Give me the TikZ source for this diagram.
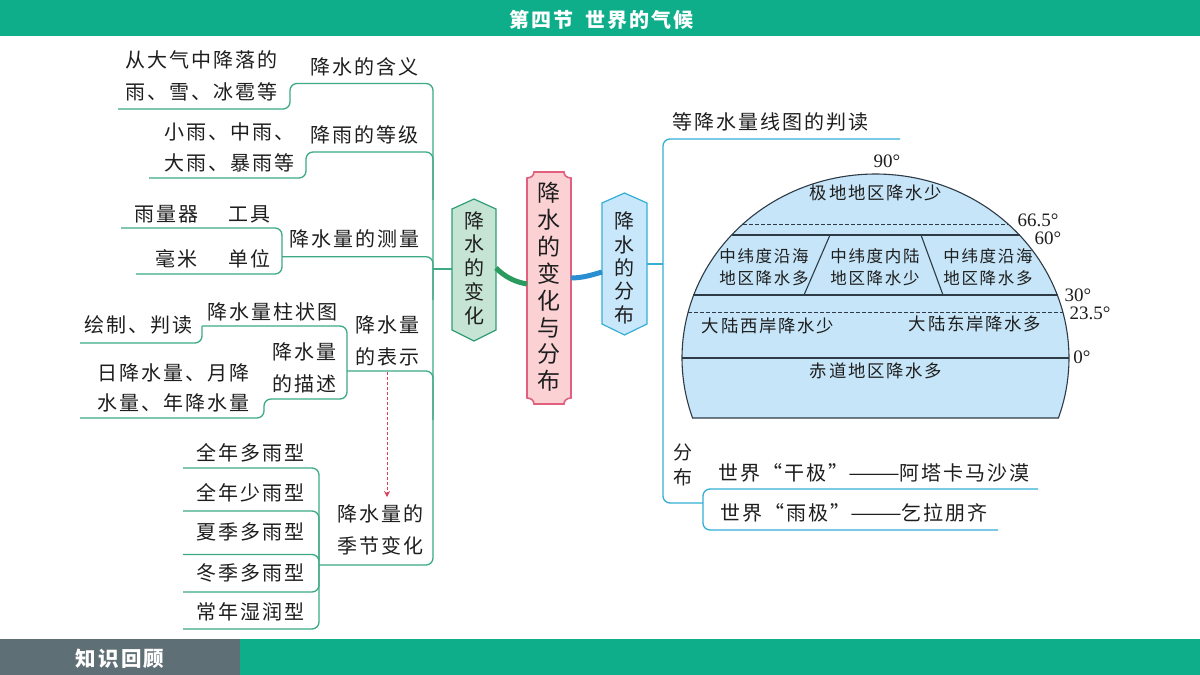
\documentclass[tikz,border=0pt]{standalone}
\usepackage{fontspec}
\newfontfamily\cjk[LetterSpace=10]{Noto Sans CJK SC}
\newfontfamily\degfont{Liberation Serif}
\usetikzlibrary{arrows.meta}
\definecolor{teal}{HTML}{0FAE8B}
\definecolor{greyband}{HTML}{5F6F76}
\definecolor{brgreen}{HTML}{3DAA85}
\definecolor{brblue}{HTML}{35AFD6}
\definecolor{ink}{HTML}{1E1E1E}
\definecolor{domefill}{HTML}{C6E5F8}
\definecolor{domeline}{HTML}{2E3B46}
\definecolor{hexgreen}{HTML}{C6E4D4}
\definecolor{hexgreenline}{HTML}{2F9E78}
\definecolor{hexblue}{HTML}{C8E7FB}
\definecolor{rootfill}{HTML}{FBD1D4}
\definecolor{rootline}{HTML}{E0607E}
\definecolor{thickgreen}{HTML}{2B9A5E}
\definecolor{thickblue}{HTML}{2A8FD2}
\definecolor{arrowred}{HTML}{D9405A}
\tikzset{
  x=1pt,y=-1pt,
  lab/.style={inner sep=0pt,outer sep=0pt,align=center,text=ink,font=\cjk\fontsize{20}{32}\selectfont},
  domelab/.style={inner sep=0pt,outer sep=0pt,align=center,text=ink,font=\cjk\fontsize{16.5}{22}\selectfont},
  domewide/.style={domelab,font=\cjk\fontsize{17.4}{22}\selectfont},
  deg/.style={inner sep=0pt,outer sep=0pt,text=ink,font=\degfont\fontsize{19}{19}\selectfont},
  gbranch/.style={draw=brgreen,line width=1.3pt,rounded corners=7pt},
  bbranch/.style={draw=brblue,line width=1.3pt,rounded corners=7pt},
  domerule/.style={draw=domeline,line width=1.1pt},
  domedash/.style={draw=domeline,line width=0.9pt,dash pattern=on 3.5pt off 2.5pt},
}
\newcommand{\longdash}{\scalebox{1.55}[1]{——}}
\begin{document}
\begin{tikzpicture}
\useasboundingbox (0,0) rectangle (1200,675);
% bands
\fill[white] (0,0) rectangle (1200,675);
\fill[teal] (0,0) rectangle (1200,36);
\fill[teal] (0,639) rectangle (1200,675);
\fill[greyband] (0,639) rectangle (240,675);
\node[inner sep=0pt,text=white,font=\cjk\bfseries\fontsize{20}{20}\selectfont] (title) at (601.5,20) {第四节\hspace{0.6em}世界的气候};
\node[inner sep=0pt,text=white,font=\cjk\bfseries\fontsize{20.5}{20}\selectfont] (recap) at (120,659) {知识回顾};

% central nodes
\path[draw=hexgreenline,line width=1.2pt,fill=hexgreen] (452,209) -- (474,199) -- (496,209) -- (496,330) -- (474,341) -- (452,330) -- cycle;
\path[draw=brblue,line width=1.2pt,fill=hexblue] (602,203) -- (624.5,193) -- (647,203) -- (647,324) -- (624.5,335) -- (602,324) -- cycle;
\path[draw=rootline,line width=1.6pt,fill=rootfill]
  (534,172) -- (564,172) .. controls (564,175.5) and (567,178) .. (571,178)
  -- (571,398) .. controls (567,398) and (564,400.5) .. (564,404)
  -- (534,404) .. controls (534,400.5) and (531,398) .. (527,398)
  -- (527,178) .. controls (531,178) and (534,175.5) .. (534,172) -- cycle;
\node[lab,font=\cjk\fontsize{20}{23.7}\selectfont] (change) at (474,268) {降\\水\\的\\变\\化};
\node[lab,font=\cjk\fontsize{20}{23.4}\selectfont] (dist) at (624.5,268) {降\\水\\的\\分\\布};
\node[lab,font=\cjk\fontsize{23}{26.9}\selectfont] (root) at (549,287) {降\\水\\的\\变\\化\\与\\分\\布};

\coordinate (gout) at (496,268);
\coordinate (gin) at (527,284);
\coordinate (bin) at (571,278);
\coordinate (bout) at (602,272);
\draw[draw=thickgreen,line width=5pt] (gout) .. controls (505,277) and (515,282) .. (gin);
\draw[draw=thickblue,line width=5pt] (bin) .. controls (582,278) and (592,275) .. (bout);

% left tree: trunk
\coordinate (trunkjoin) at (433,269);
\draw[gbranch] (452,269) -- (trunkjoin);
\coordinate (a1) at (118,109);
\draw[gbranch] (a1) -- (290,109) -- (290,83.5) -- (433,83.5) -- (433,565) -- (319,565);
\coordinate (a2) at (149,178);
\draw[gbranch] (a2) -- (306,178) -- (306,152) -- (433,152) -- (433,200);
\draw[gbranch] (282,256.7) -- (433,256.7) -- (433,300);
\draw[gbranch] (347,371) -- (433,371) -- (433,420);
% measure bracket
\draw[gbranch] (121,228) -- (282,228) -- (282,274) -- (136,274);
% representation bracket
\draw[gbranch] (202,326) -- (347,326) -- (347,399) -- (264,399) -- (264,418) -- (80,418);
\draw[gbranch] (202,326) -- (202,343) -- (80,343);
% season bracket
\draw[gbranch] (183,468) -- (319,468) -- (319,629) -- (183,629);
\draw[gbranch] (183,511) -- (319,511) -- (319,560);
\draw[gbranch] (183,554.5) -- (319,554.5) -- (319,592) -- (183,592);
% red arrow
\coordinate (rs) at (387,372);
\coordinate (re) at (387,497);
\draw[draw=arrowred,line width=1pt,dash pattern=on 3pt off 2pt,-{Stealth[length=6pt,width=6pt]}] (rs) -- (re);

% left labels
\node[lab] (t1) at (201,60) {从大气中降落的};
\node[lab] (t2) at (201,92) {雨、雪、冰雹等};
\node[lab] (t3) at (364,67) {降水的含义};
\node[lab] (t4) at (229,132) {小雨、中雨、};
\node[lab] (t5) at (229,163) {大雨、暴雨等};
\node[lab] (t6) at (364,135) {降雨的等级};
\node[lab] (t7) at (166,214) {雨量器};
\node[lab] (t8) at (249,214) {工具};
\node[lab] (t9) at (176,259) {毫米};
\node[lab] (t10) at (249,259) {单位};
\node[lab] (t11) at (354,239) {降水量的测量};
\node[lab] (t12) at (272,312) {降水量柱状图};
\node[lab] (t13) at (138,325) {绘制、判读};
\node[lab] (t14) at (387,341) {降水量\\的表示};
\node[lab] (t15) at (304,367.5) {降水量\\的描述};
\node[lab,font=\cjk\fontsize{20}{30}\selectfont] (t16) at (173,388) {日降水量、月降\\水量、年降水量};
\node[lab] (t17) at (250,453) {全年多雨型};
\node[lab] (t18) at (250,493) {全年少雨型};
\node[lab] (t19) at (250,532) {夏季多雨型};
\node[lab] (t20) at (250,573) {冬季多雨型};
\node[lab] (t21) at (250,612) {常年湿润型};
\node[lab] (t22) at (380,530) {降水量的\\季节变化};

% right tree
\coordinate (bjoin) at (663,264);
\draw[bbranch] (647,264) -- (bjoin);
\coordinate (b1) at (900,139);
\draw[bbranch] (b1) -- (663,139) -- (663,503) -- (703,503);
\coordinate (b2) at (1038,489);
\coordinate (b3) at (998,530);
\draw[bbranch] (b2) -- (703,489) -- (703,530) -- (b3);
\node[lab] (r1) at (770,122) {等降水量线图的判读};
\node[lab,font=\cjk\fontsize{19}{25}\selectfont] (r2) at (683,464.5) {分\\布};
\node[lab] (r3) at (874,473) {世界“干极”\longdash 阿塔卡马沙漠};
\node[lab] (r4) at (854,513) {世界“雨极”\longdash 乞拉朋齐};

% dome
\path[fill=domefill,draw=domeline,line width=1.1pt]
  plot[domain=-19.03:199.03,samples=120] ({875.5+193.5*cos(\x)},{358-184*sin(\x)}) -- cycle;
\draw[domerule] (682,358) -- (1069,358);
\draw[domerule] (693,295) -- (1058,295);
\draw[domerule] (731.5,235) -- (1019.5,235);
\draw[domedash] (743,224) -- (1008,224);
\draw[domedash] (688,312) -- (1063,312);
\draw[domerule] (830,235) -- (804,295);
\draw[domerule] (921,235) -- (943,295);
\node[domewide] (d1) at (876,193) {极地地区降水少};
\node[domelab] (d2) at (764,267) {中纬度沿海\\地区降水多};
\node[domelab] (d3) at (875,267) {中纬度内陆\\地区降水少};
\node[domelab] (d4) at (988,267) {中纬度沿海\\地区降水多};
\node[domewide] (d5) at (768,326) {大陆西岸降水少};
\node[domewide] (d6) at (975,324) {大陆东岸降水多};
\node[domewide] (d7) at (876,371) {赤道地区降水多};
\node[deg] (g1) at (887,161) {90°};
\node[deg] (g2) at (1038,220) {66.5°};
\node[deg] (g3) at (1048,238) {60°};
\node[deg] (g4) at (1078,295) {30°};
\node[deg] (g5) at (1090,313) {23.5°};
\node[deg] (g6) at (1082,357) {0°};
\end{tikzpicture}
\end{document}
